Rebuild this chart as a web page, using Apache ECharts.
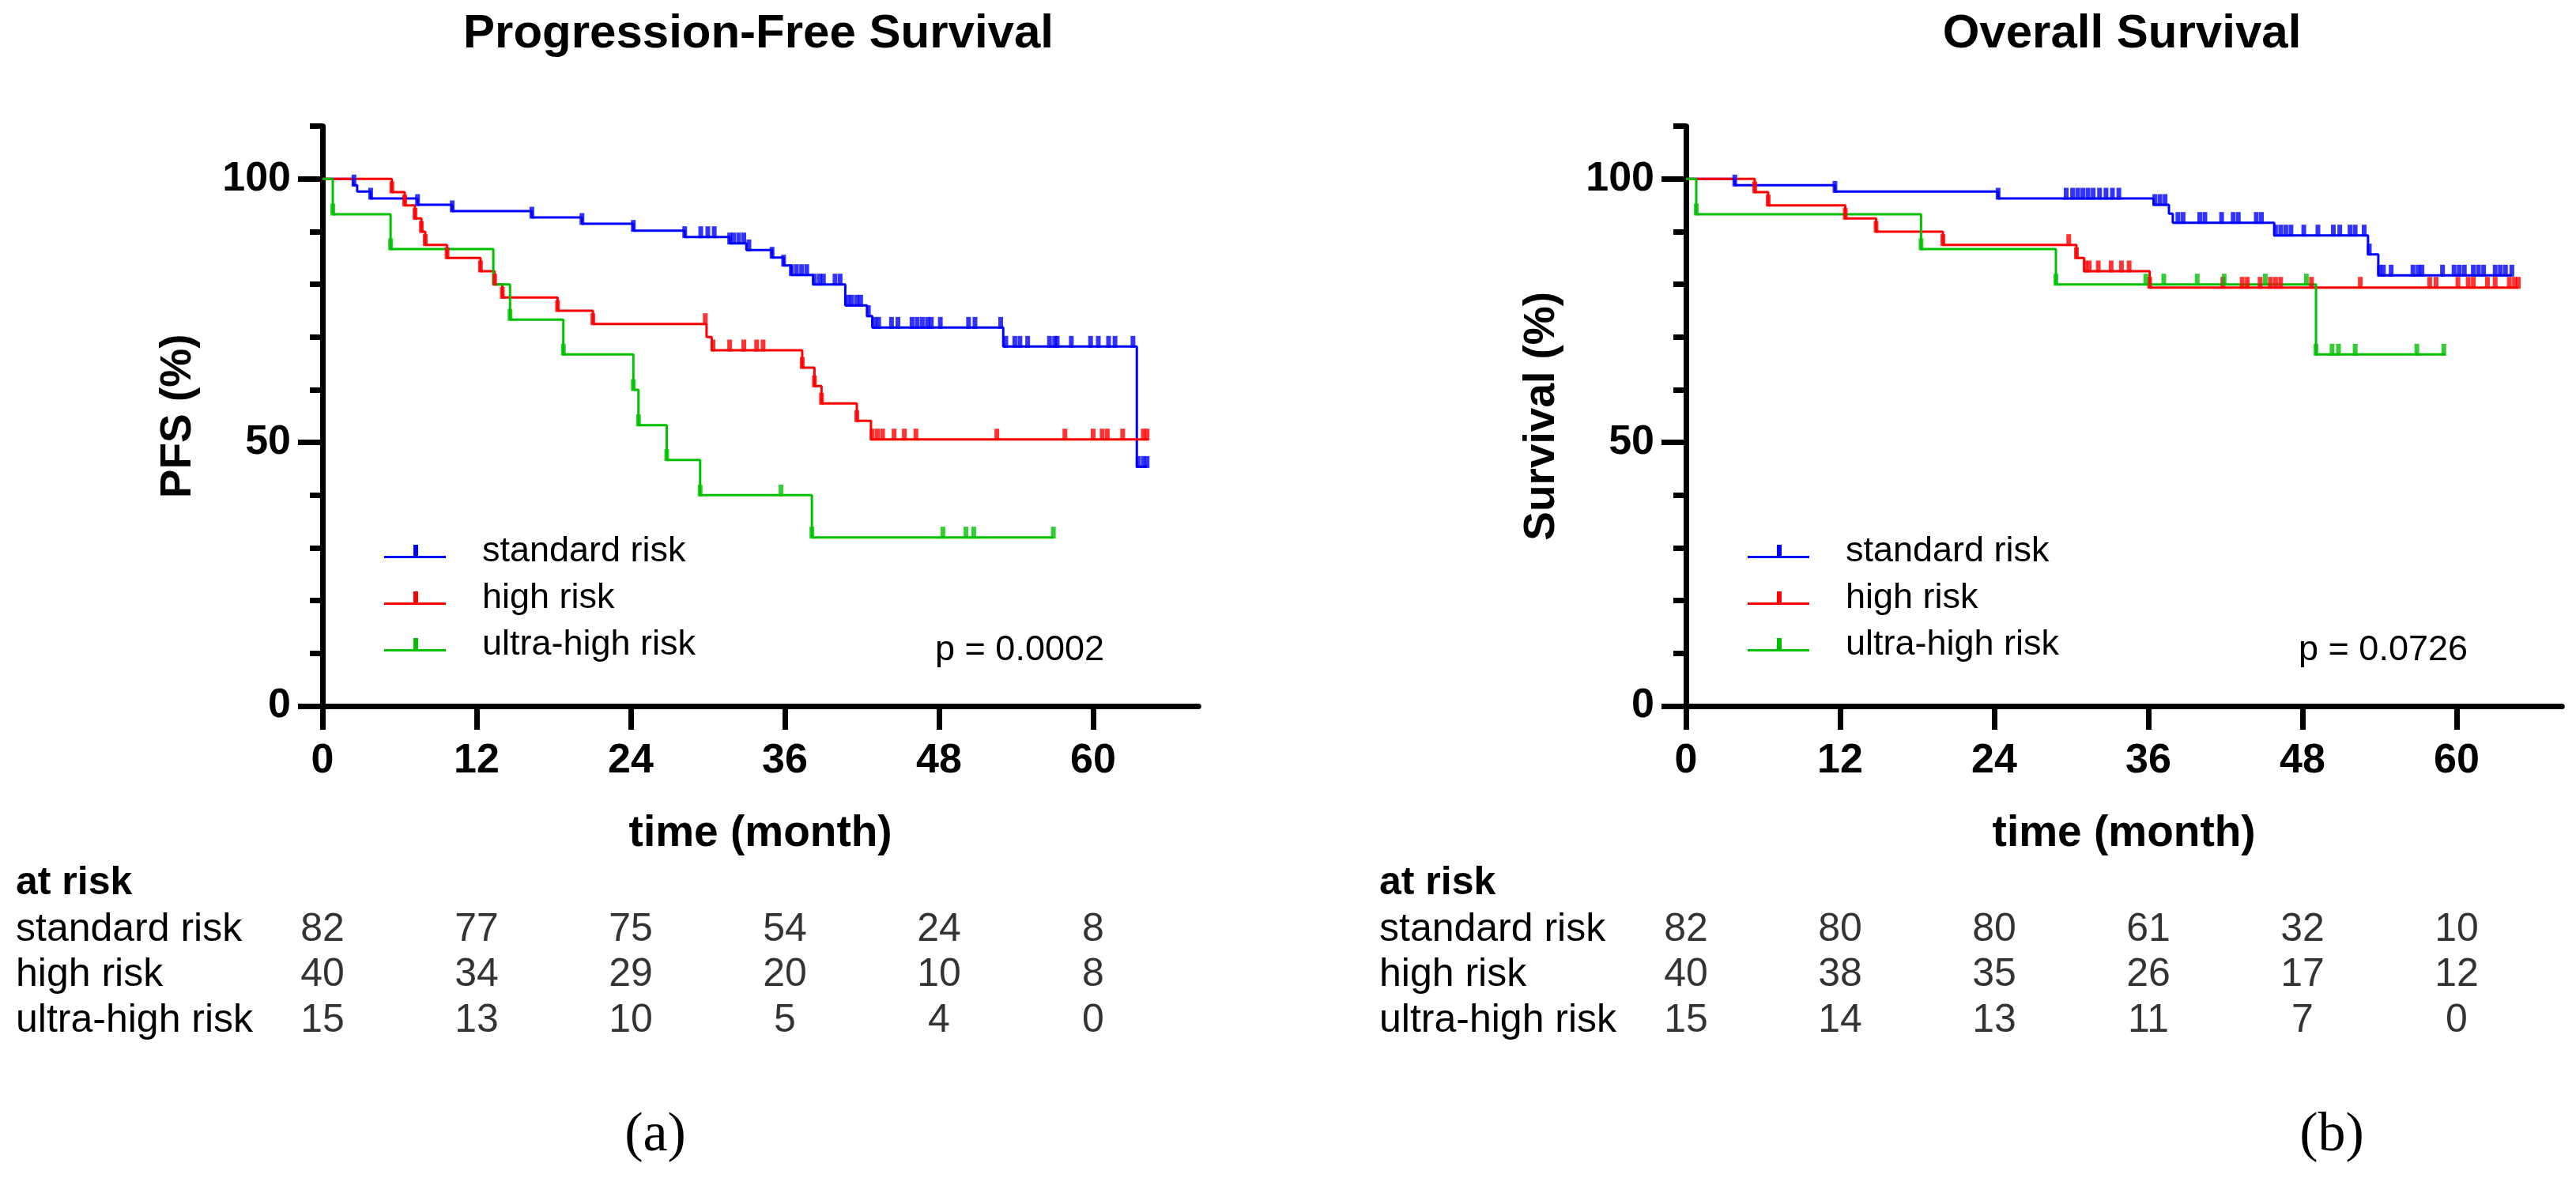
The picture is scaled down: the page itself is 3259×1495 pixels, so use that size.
<!DOCTYPE html>
<html lang="en">
<head>
<meta charset="UTF-8">
<title>PFS and OS by cytogenetic risk</title>
<style>
  html, body { margin: 0; padding: 0; background: #fff; }
  #chart { width: 3259px; height: 1495px; }
</style>
</head>
<body>
<div id="chart"></div>
<script src="https://cdn.jsdelivr.net/npm/echarts@6/dist/echarts.min.js"></script>
<script>
// values
var monthTicks = [0, 12, 24, 36, 48, 60];
var riskGroups = ['standard risk', 'high risk', 'ultra-high risk'];

// Kaplan-Meier steps: [month, % surviving after the drop]
var pfsStandard = [[0,100],[2.4,98.8],[2.7,97.6],[3.75,96.3],[7.4,95.1],[10.1,93.9],[16.3,92.7],[20.2,91.5],[24.2,90.2],[28.2,89.0],[31.7,87.8],[33.0,86.5],[35.0,85.1],[35.9,83.6],[36.5,81.8],[38.2,80.0],[40.7,76.0],[42.4,74.0],[42.8,71.8],[53.0,68.2],[63.4,45.4],[64.2,45.4]];
var pfsHigh = [[0,100],[5.4,97.5],[6.4,95],[7.2,92.5],[7.7,90],[8.0,87.5],[9.7,85],[12.3,82.5],[13.4,80],[14.0,77.5],[18.3,75],[21.05,72.5],[29.9,70],[30.3,67.5],[37.35,64.2],[38.3,60.7],[38.85,57.4],[41.6,54.1],[42.7,50.6],[64.3,50.6]];
var pfsUltra = [[0,100],[0.8,93.3],[5.3,86.7],[13.3,80],[14.6,73.3],[18.75,66.7],[24.2,60],[24.6,53.3],[26.8,46.7],[29.4,40],[38.1,32],[56.9,32]];

var osStandard = [[0,100],[3.8,98.8],[11.6,97.6],[24.3,96.3],[36.4,95.1],[37.6,93.4],[37.9,91.7],[45.8,89.3],[53.1,85.7],[53.9,81.7],[64.3,81.7]];
var osHigh = [[0,100],[5.35,97.5],[6.4,95],[12.4,92.5],[14.8,90],[20.0,87.5],[30.4,85],[31.0,82.5],[36.1,79.4],[64.8,79.4]];
var osUltra = [[0,100],[0.8,93.3],[18.3,86.7],[28.8,80],[49.05,66.7],[59.1,66.7]];

// censoring times (month)
var pfsStandardCensor = [2.45,3.75,7.4,10.1,16.3,20.2,24.2,28.2,29.45,30.0,30.5,31.7,32.0,32.4,32.8,33.2,35.0,35.9,36.5,36.9,37.3,37.7,38.3,38.7,39.0,39.9,40.3,40.9,41.2,41.6,41.9,42.5,43.0,43.3,44.3,44.8,45.9,46.3,46.7,47.1,47.4,48.1,50.3,50.8,52.8,53.2,53.9,54.3,54.9,56.6,57.0,57.2,58.3,59.8,60.4,61.2,61.7,63.1,63.5,63.9,64.2];
var pfsHighCensor = [5.4,6.4,7.2,7.7,8.0,9.7,12.3,13.4,14.0,18.3,21.05,29.8,30.4,31.7,32.8,33.8,34.3,37.35,38.3,38.85,41.6,42.8,43.2,43.6,44.5,45.3,46.2,52.5,57.8,60.0,60.7,61.1,62.3,63.9,64.2];
var pfsUltraCensor = [0.8,5.3,14.6,18.75,24.2,24.6,26.8,29.4,35.7,38.1,48.3,50.1,50.7,56.9];

var osStandardCensor = [3.8,11.6,24.3,29.6,30.1,30.5,30.9,31.3,31.7,32.2,32.7,33.2,33.7,36.5,36.9,37.3,38.3,38.7,40.0,40.4,41.7,42.6,43.0,44.4,44.8,45.9,46.3,46.7,47.1,48.1,49.2,50.4,50.9,51.7,52.1,52.8,53.2,54.0,54.3,54.9,56.6,57.0,57.3,58.9,59.8,60.2,60.6,61.3,61.7,62.1,63.0,63.4,63.8,64.3];
var osHighCensor = [5.35,6.4,12.4,14.8,20.0,29.8,30.4,31.1,31.4,32.1,33.1,33.9,34.5,36.1,41.8,43.3,43.7,44.7,45.5,45.9,46.3,48.7,52.5,57.9,58.4,60.1,60.9,61.3,62.4,63.0,64.1,64.5,64.8];
var osUltraCensor = [0.8,18.3,28.8,35.8,37.2,39.8,41.9,45.1,48.3,49.05,50.3,50.8,52.1,56.9,59.0];

// numbers at risk at monthTicks
var pfsAtRiskStandard = [82, 77, 75, 54, 24, 8];
var pfsAtRiskHigh = [40, 34, 29, 20, 10, 8];
var pfsAtRiskUltra = [15, 13, 10, 5, 4, 0];
var osAtRiskStandard = [82, 80, 80, 61, 32, 10];
var osAtRiskHigh = [40, 38, 35, 26, 17, 12];
var osAtRiskUltra = [15, 14, 13, 11, 7, 0];

var pValues = ['p = 0.0002', 'p = 0.0726'];

// ---- drawing ----
var FONT = 'Liberation Sans';
var colors = ['#0000ff', '#ff0000', '#00c000'];
var SHIFT = 1725;          // right panel offset
var XMAX = 68.2;
var chart = echarts.init(document.getElementById('chart'));

function survivalAt(steps, t) {
    var s = steps[0][1];
    for (var i = 0; i < steps.length; i++) {
        if (steps[i][0] <= t + 1e-9) s = steps[i][1];
        else break;
    }
    return s;
}

function kmSeries(name, steps, censor, color, axisIdx) {
    return [{
        name: name,
        type: 'line',
        step: 'end',
        xAxisIndex: axisIdx,
        yAxisIndex: axisIdx * 2,
        data: steps,
        showSymbol: false,
        symbol: 'none',
        lineStyle: { color: color, width: 3 },
        itemStyle: { color: color },
        z: 2
    }, {
        name: name + ' censored',
        type: 'scatter',
        xAxisIndex: axisIdx,
        yAxisIndex: axisIdx * 2,
        data: censor.map(function (t) { return [t, survivalAt(steps, t)]; }),
        symbol: 'rect',
        symbolSize: [6, 15],
        symbolOffset: [0, -6],
        itemStyle: { color: color },
        z: 3
    }];
}

// tables use xAxis 2/3 and yAxis 4/5
function tableSeries(counts, group, tableIdx) {
    return {
        type: 'scatter',
        xAxisIndex: 2 + tableIdx,
        yAxisIndex: 4 + tableIdx,
        symbolSize: 1,
        itemStyle: { color: 'rgba(0,0,0,0)' },
        data: monthTicks.map(function (m, i) { return [m, group, counts[i]]; }),
        label: {
            show: true,
            position: 'inside',
            formatter: function (p) { return String(p.value[2]); },
            color: '#000',
            fontFamily: FONT,
            fontSize: 50
        }
    };
}

function plotXAxis(gridIdx) {
    return {
        gridIndex: gridIdx, type: 'value', min: 0, max: XMAX,
        name: 'time (month)', nameLocation: 'middle', nameGap: 134,
        nameTextStyle: { fontFamily: FONT, fontSize: 55, fontWeight: 'bold', color: '#000' },
        axisLine: { lineStyle: { color: '#000', width: 7 } },
        axisTick: { customValues: monthTicks, length: 30, lineStyle: { color: '#000', width: 7 } },
        axisLabel: { customValues: monthTicks, margin: 44, fontFamily: FONT, fontSize: 52, fontWeight: 'bold', color: '#000' },
        splitLine: { show: false }
    };
}

function plotYAxes(gridIdx, title) {
    return [{
        gridIndex: gridIdx, type: 'value', min: 0, max: 110, position: 'left',
        name: title, nameLocation: 'middle', nameGap: 155,
        nameTextStyle: { fontFamily: FONT, fontSize: 55, fontWeight: 'bold', color: '#000' },
        axisLine: { onZero: false, lineStyle: { color: '#000', width: 7 } },
        axisTick: { customValues: [0, 50, 100], length: 31, lineStyle: { color: '#000', width: 7 } },
        axisLabel: { customValues: [0, 50, 100], margin: 40, fontFamily: FONT, fontSize: 52, fontWeight: 'bold', color: '#000' },
        splitLine: { show: false }
    }, {
        gridIndex: gridIdx, type: 'value', min: 0, max: 110, position: 'left',
        axisLine: { show: false },
        axisTick: { customValues: [10, 20, 30, 40, 60, 70, 80, 90, 110], length: 16, lineStyle: { color: '#000', width: 7 } },
        axisLabel: { show: false },
        splitLine: { show: false }
    }];
}

function tableAxes(gridIdx) {
    return {
        x: { gridIndex: gridIdx, type: 'value', min: 0, max: XMAX, show: false },
        y: {
            gridIndex: gridIdx, type: 'category', data: riskGroups, inverse: true,
            axisLine: { show: false }, axisTick: { show: false },
            axisLabel: { interval: 0, align: 'left', margin: 388, fontFamily: FONT, fontSize: 50, color: '#000' }
        }
    };
}

var legendIcon = 'path://M0,14L78,14L78,17L0,17Z M37,0L43,0L43,15L37,15Z';
function makeLegend(left) {
    return {
        left: left, top: 668, orient: 'vertical', padding: 0, itemGap: 0,
        itemWidth: 78, itemHeight: 17, icon: legendIcon, selectedMode: false,
        itemStyle: { borderWidth: 0 },
        data: riskGroups.map(function (g, i) { return { name: g, itemStyle: { color: colors[i] } }; }),
        textStyle: { fontFamily: FONT, fontSize: 45, lineHeight: 45, color: '#000', padding: [14, 0, 0, 41] }
    };
}

var tA = tableAxes(2), tB = tableAxes(3);

var series = []
    .concat(kmSeries(riskGroups[0], pfsStandard, pfsStandardCensor, colors[0], 0))
    .concat(kmSeries(riskGroups[1], pfsHigh, pfsHighCensor, colors[1], 0))
    .concat(kmSeries(riskGroups[2], pfsUltra, pfsUltraCensor, colors[2], 0))
    .concat(kmSeries(riskGroups[0], osStandard, osStandardCensor, colors[0], 1))
    .concat(kmSeries(riskGroups[1], osHigh, osHighCensor, colors[1], 1))
    .concat(kmSeries(riskGroups[2], osUltra, osUltraCensor, colors[2], 1));
series.push(tableSeries(pfsAtRiskStandard, riskGroups[0], 0));
series.push(tableSeries(pfsAtRiskHigh, riskGroups[1], 0));
series.push(tableSeries(pfsAtRiskUltra, riskGroups[2], 0));
series.push(tableSeries(osAtRiskStandard, riskGroups[0], 1));
series.push(tableSeries(osAtRiskHigh, riskGroups[1], 1));
series.push(tableSeries(osAtRiskUltra, riskGroups[2], 1));

function txt(x, y, text, size, weight, align, family) {
    return {
        type: 'text', x: x, y: y, silent: true,
        style: {
            text: text, fill: '#000', fontFamily: family || FONT, fontSize: size,
            fontWeight: weight || 'normal', align: align || 'center', verticalAlign: 'middle'
        }
    };
}

var option = {
    animation: false,
    backgroundColor: '#fff',
    grid: [
        { left: 408, top: 159.7, width: 1108.25, height: 733.3 },
        { left: 408 + SHIFT, top: 159.7, width: 1108.25, height: 733.3 },
        { left: 408, top: 1147, width: 1108.25, height: 172.8 },
        { left: 408 + SHIFT, top: 1147, width: 1108.25, height: 172.8 }
    ],
    xAxis: [plotXAxis(0), plotXAxis(1), tA.x, tB.x],
    // yAxis order: 0,1 PFS (main, minor ticks); 2,3 OS; 4,5 tables
    yAxis: plotYAxes(0, 'PFS (%)').concat(plotYAxes(1, 'Survival (%)')).concat([tA.y, tB.y]),
    legend: [makeLegend(486), makeLegend(486 + SHIFT)],
    series: series,
    graphic: [
        txt(959.5, 43, 'Progression-Free Survival', 60, 'bold'),
        txt(959.5 + SHIFT, 43, 'Overall Survival', 60, 'bold'),
        txt(1397, 823, pValues[0], 45, 'normal', 'right'),
        txt(1397 + SHIFT, 823, pValues[1], 45, 'normal', 'right'),
        txt(20, 1117, 'at risk', 50, 'bold', 'left'),
        txt(20 + SHIFT, 1117, 'at risk', 50, 'bold', 'left'),
        txt(829, 1437, '(a)', 70, 'normal', 'center', 'Liberation Serif'),
        txt(2950, 1437, '(b)', 70, 'normal', 'center', 'Liberation Serif')
    ]
};

chart.setOption(option);
</script>
</body>
</html>
